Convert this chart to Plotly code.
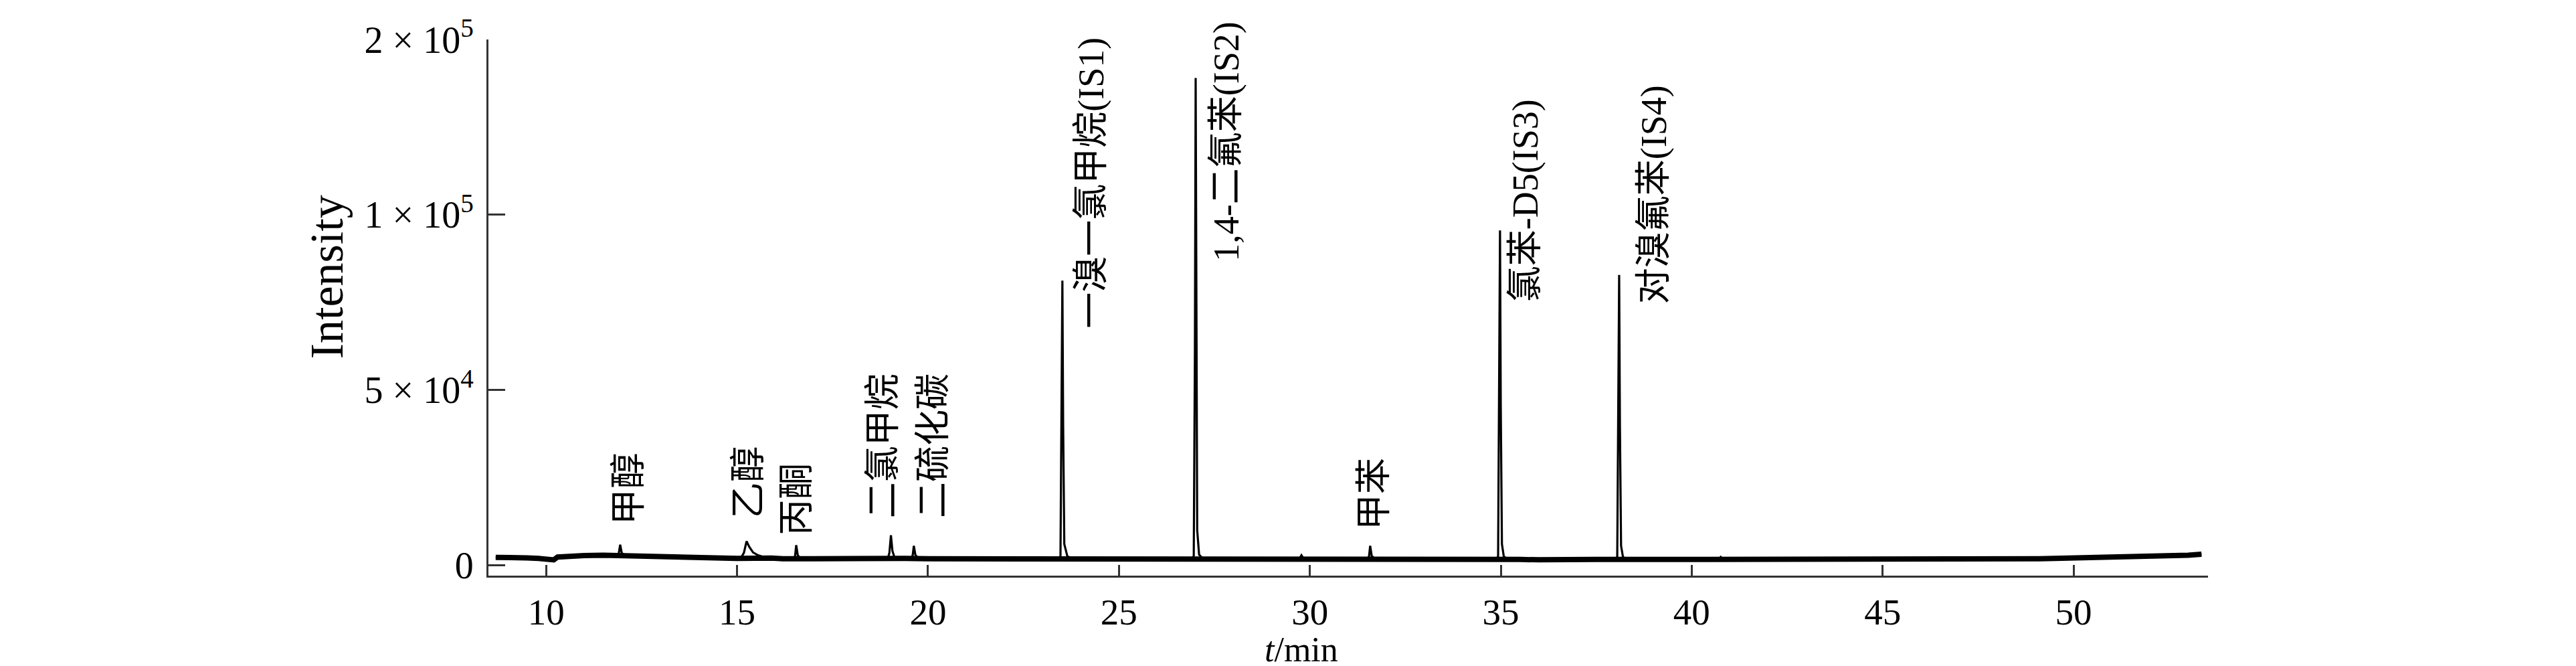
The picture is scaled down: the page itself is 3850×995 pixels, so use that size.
import plotly.graph_objects as go

# ---------------- data ----------------
# baseline of the chromatogram (t in min, intensity in counts)
baseline_t = [
    8.68, 9.0, 9.5, 9.8, 10.0, 10.2, 10.3, 10.6, 11.0, 11.5, 11.8,
    12.2, 12.6, 13.0, 13.5, 14.0, 14.5, 15.0,
    15.9, 16.2, 17.0, 17.5, 18.0, 18.5, 19.4,
    20.0, 20.5, 21.0, 21.5, 22.0, 22.5, 23.0,
    24.0, 24.5, 25.0, 25.5, 26.0, 26.5,
    27.5, 28.0, 28.5, 29.0, 29.5,
    30.2, 30.7, 31.2,
    32.0, 32.5, 33.0, 33.5, 34.0, 34.5,
    35.5, 36.0, 36.5, 37.0, 37.5,
    38.5, 39.0, 39.5, 40.0, 40.5, 41.0, 41.5, 42.0, 42.5, 43.0,
    43.5, 44.0, 44.5, 45.0, 45.5, 46.0, 46.5, 47.0, 47.5, 48.0, 48.5,
    49.0, 49.5, 50.0, 50.5, 51.0, 51.5, 52.0, 52.5, 53.0, 53.35,
]
baseline_i = [
    2200, 2000, 2050, 1900, 1600, 1500, 2300, 2600, 2700, 2800, 2700,
    2800, 2600, 2300, 2100, 2000, 1900, 1900,
    2000, 1800, 1800, 1900, 1800, 1900, 1900,
    1800, 1800, 1900, 1800, 1800, 1900, 1800,
    1800, 1700, 1800, 1700, 1800, 1700,
    1800, 1700, 1700, 1800, 1700,
    1700, 1600, 1700,
    1600, 1700, 1600, 1600, 1700, 1600,
    1600, 1500, 1600, 1500, 1600,
    1600, 1500, 1600, 1600, 1600, 1600, 1600, 1500, 1600, 1600,
    1500, 1600, 1600, 1500, 1500, 1600, 1600, 1700, 1700, 1700, 1800,
    1800, 1900, 2000, 2100, 2200, 2300, 2500, 2600, 2800, 3100,
]
# points describing each chromatographic peak
peak_t = [
    11.85, 11.90, 11.94, 11.98, 12.05,                          # 甲醇
    15.10, 15.18, 15.25, 15.32, 15.42, 15.55, 15.7,             # 乙醇
    16.48, 16.52, 16.55, 16.59, 16.65,                          # 丙酮
    18.95, 18.99, 19.03, 19.07, 19.12, 19.2,                    # 二氯甲烷
    19.56, 19.60, 19.63, 19.67, 19.74,                          # 二硫化碳
    23.42, 23.47, 23.50, 23.52, 23.54, 23.57, 23.65, 23.8,      # IS1
    26.90, 26.96, 26.99, 27.01, 27.03, 27.05, 27.10, 27.2,      # IS2
    29.72, 29.78, 29.84,
    31.50, 31.55, 31.58, 31.62, 31.70,                          # 甲苯
    34.88, 34.93, 34.96, 34.98, 35.00, 35.03, 35.08, 35.2,      # IS3
    38.00, 38.05, 38.08, 38.10, 38.12, 38.15, 38.20, 38.3,      # IS4
    40.70, 40.76, 40.82,
]
peak_i = [
    2600, 3200, 5800, 3500, 2700,
    2000, 3500, 6800, 5200, 3600, 2800, 2300,
    1900, 2600, 5700, 2800, 2000,
    1900, 3500, 8500, 4000, 2300, 1900,
    1900, 2800, 5500, 2900, 2000,
    1800, 2500, 40000, 81200, 40000, 6000, 2500, 1800,
    1700, 2500, 60000, 178000, 80000, 10000, 3000, 1800,
    1700, 2800, 1800,
    1700, 2500, 5500, 2600, 1800,
    1600, 2500, 50000, 95500, 45000, 6000, 2400, 1700,
    1600, 2400, 45000, 82800, 40000, 5500, 2300, 1700,
    1600, 2300, 1600,
]

label_text = ["甲醇", "乙醇", "丙酮", "二氯甲烷", "二硫化碳",
              "一溴一氯甲烷(IS1)", "1,4-二氟苯(IS2)", "甲苯",
              "氯苯-D5(IS3)", "对溴氟苯(IS4)"]
label_t = [12.17, 15.31, 16.57, 18.83, 20.14, 24.28, 27.82, 31.69, 35.65, 39.01]
label_base = [11100, 13000, 8100, 13000, 13000, 67100, 86300, 9600, 74600, 74200]

x_tick_vals = [10, 15, 20, 25, 30, 35, 40, 45, 50]
y_tick_real = [0, 50000, 100000, 200000]
y_tick_text = ["0", "5 × 10<sup>4</sup>", "1 × 10<sup>5</sup>", "2 × 10<sup>5</sup>"]

# The intensity axis of the reference is compressed above 1×10^5 (1e5→2e5 spans the
# same length as 5e4→1e5); map values onto that piecewise axis.
BREAK = 100000


def axis_pos(v):
    return v if v <= BREAK else BREAK + (v - BREAK) / 2.0


pairs = sorted(zip(baseline_t + peak_t, baseline_i + peak_i))
all_t = [p[0] for p in pairs]
all_y = [axis_pos(p[1]) for p in pairs]
base_y = [axis_pos(v) for v in baseline_i]
y_tick_vals = [axis_pos(v) for v in y_tick_real]
label_y = [axis_pos(v) for v in label_base]

FONT = "Liberation Serif, Times New Roman, Noto Sans CJK SC, serif"

fig = go.Figure()
# thick, noisy-looking baseline band
fig.add_trace(go.Scatter(x=baseline_t, y=base_y, mode="lines",
                         line=dict(color="black", width=8), showlegend=False,
                         hoverinfo="skip"))
# full chromatogram
fig.add_trace(go.Scatter(x=all_t, y=all_y, mode="lines",
                         line=dict(color="black", width=3.2), showlegend=False,
                         hoverinfo="skip"))

for txt, tx, ty in zip(label_text, label_t, label_y):
    fig.add_annotation(x=tx, y=ty, xref="x", yref="y", text=txt, textangle=-90,
                       showarrow=False, xanchor="center", yanchor="bottom",
                       font=dict(family=FONT, size=54, color="black"))

# axis titles
fig.add_annotation(x=-0.094, y=0.557, xref="paper", yref="paper", text="Intensity",
                   textangle=-90, showarrow=False, xanchor="center", yanchor="middle",
                   font=dict(family=FONT, size=70, color="black"))
fig.add_annotation(x=0.4728, y=-0.176, xref="paper", yref="paper",
                   text="<i>t</i>/min", showarrow=False, xanchor="center",
                   yanchor="bottom", font=dict(family=FONT, size=52, color="black"))

fig.update_layout(
    width=3850, height=995,
    margin=dict(l=722, r=558, t=40, b=143, pad=0),
    paper_bgcolor="white", plot_bgcolor="white",
    font=dict(family=FONT, color="black"),
)
fig.update_xaxes(range=[8.49, 53.52], tickvals=x_tick_vals,
                 ticktext=[str(v) for v in x_tick_vals],
                 showgrid=False, zeroline=False, showline=True,
                 linecolor="#333333", linewidth=3, ticks="inside", ticklen=16,
                 tickwidth=2.5, tickcolor="#333333",
                 tickfont=dict(family=FONT, size=55, color="black"),
                 ticklabelstandoff=4)
fig.update_yaxes(range=[-3015, 150000], tickvals=y_tick_vals, ticktext=y_tick_text,
                 showgrid=False, zeroline=False, showline=True,
                 linecolor="#333333", linewidth=3, ticks="inside", ticklen=25,
                 tickwidth=2.5, tickcolor="#333333",
                 tickfont=dict(family=FONT, size=56, color="black"),
                 ticklabelstandoff=8)

fig.write_html("out.html")
